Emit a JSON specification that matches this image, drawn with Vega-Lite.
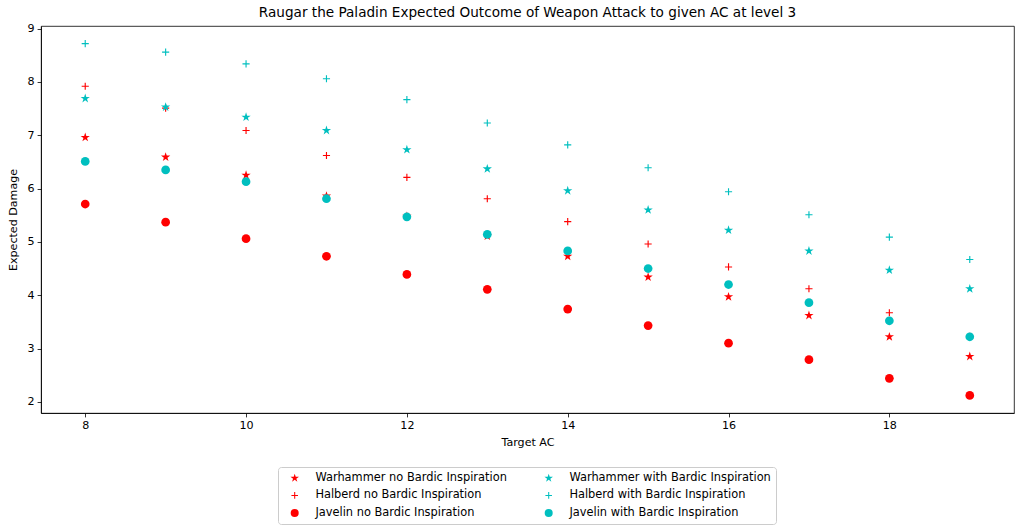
{
  "$schema": "https://vega.github.io/schema/vega-lite/v6.json",
  "autosize": "none",
  "width": 973,
  "height": 387,
  "padding": {"left": 41, "top": 26, "right": 8, "bottom": 119},
  "title": {"text": "Raugar the Paladin Expected Outcome of Weapon Attack to given AC at level 3", "fontSize": 13.6, "fontWeight": "normal", "font": "DejaVu Sans", "color": "black", "offset": 3},
  "data": {
    "values": [
      {"series": "Warhammer no Bardic Inspiration", "ac": 8, "damage": 6.96},
      {"series": "Warhammer no Bardic Inspiration", "ac": 9, "damage": 6.59},
      {"series": "Warhammer no Bardic Inspiration", "ac": 10, "damage": 6.25},
      {"series": "Warhammer no Bardic Inspiration", "ac": 11, "damage": 5.86},
      {"series": "Warhammer no Bardic Inspiration", "ac": 12, "damage": 5.48},
      {"series": "Warhammer no Bardic Inspiration", "ac": 13, "damage": 5.11},
      {"series": "Warhammer no Bardic Inspiration", "ac": 14, "damage": 4.73},
      {"series": "Warhammer no Bardic Inspiration", "ac": 15, "damage": 4.34},
      {"series": "Warhammer no Bardic Inspiration", "ac": 16, "damage": 3.97},
      {"series": "Warhammer no Bardic Inspiration", "ac": 17, "damage": 3.62},
      {"series": "Warhammer no Bardic Inspiration", "ac": 18, "damage": 3.22},
      {"series": "Warhammer no Bardic Inspiration", "ac": 19, "damage": 2.85},
      {"series": "Halberd no Bardic Inspiration", "ac": 8, "damage": 7.92},
      {"series": "Halberd no Bardic Inspiration", "ac": 9, "damage": 7.51},
      {"series": "Halberd no Bardic Inspiration", "ac": 10, "damage": 7.09},
      {"series": "Halberd no Bardic Inspiration", "ac": 11, "damage": 6.62},
      {"series": "Halberd no Bardic Inspiration", "ac": 12, "damage": 6.21},
      {"series": "Halberd no Bardic Inspiration", "ac": 13, "damage": 5.81},
      {"series": "Halberd no Bardic Inspiration", "ac": 14, "damage": 5.38},
      {"series": "Halberd no Bardic Inspiration", "ac": 15, "damage": 4.96},
      {"series": "Halberd no Bardic Inspiration", "ac": 16, "damage": 4.53},
      {"series": "Halberd no Bardic Inspiration", "ac": 17, "damage": 4.12},
      {"series": "Halberd no Bardic Inspiration", "ac": 18, "damage": 3.67},
      {"series": "Halberd no Bardic Inspiration", "ac": 19, "damage": 3.23},
      {"series": "Javelin no Bardic Inspiration", "ac": 8, "damage": 5.71},
      {"series": "Javelin no Bardic Inspiration", "ac": 9, "damage": 5.37},
      {"series": "Javelin no Bardic Inspiration", "ac": 10, "damage": 5.06},
      {"series": "Javelin no Bardic Inspiration", "ac": 11, "damage": 4.73},
      {"series": "Javelin no Bardic Inspiration", "ac": 12, "damage": 4.39},
      {"series": "Javelin no Bardic Inspiration", "ac": 13, "damage": 4.11},
      {"series": "Javelin no Bardic Inspiration", "ac": 14, "damage": 3.74},
      {"series": "Javelin no Bardic Inspiration", "ac": 15, "damage": 3.43},
      {"series": "Javelin no Bardic Inspiration", "ac": 16, "damage": 3.10},
      {"series": "Javelin no Bardic Inspiration", "ac": 17, "damage": 2.79},
      {"series": "Javelin no Bardic Inspiration", "ac": 18, "damage": 2.44},
      {"series": "Javelin no Bardic Inspiration", "ac": 19, "damage": 2.12},
      {"series": "Warhammer with Bardic Inspiration", "ac": 8, "damage": 7.69},
      {"series": "Warhammer with Bardic Inspiration", "ac": 9, "damage": 7.53},
      {"series": "Warhammer with Bardic Inspiration", "ac": 10, "damage": 7.34},
      {"series": "Warhammer with Bardic Inspiration", "ac": 11, "damage": 7.09},
      {"series": "Warhammer with Bardic Inspiration", "ac": 12, "damage": 6.73},
      {"series": "Warhammer with Bardic Inspiration", "ac": 13, "damage": 6.37},
      {"series": "Warhammer with Bardic Inspiration", "ac": 14, "damage": 5.96},
      {"series": "Warhammer with Bardic Inspiration", "ac": 15, "damage": 5.60},
      {"series": "Warhammer with Bardic Inspiration", "ac": 16, "damage": 5.22},
      {"series": "Warhammer with Bardic Inspiration", "ac": 17, "damage": 4.83},
      {"series": "Warhammer with Bardic Inspiration", "ac": 18, "damage": 4.47},
      {"series": "Warhammer with Bardic Inspiration", "ac": 19, "damage": 4.12},
      {"series": "Halberd with Bardic Inspiration", "ac": 8, "damage": 8.72},
      {"series": "Halberd with Bardic Inspiration", "ac": 9, "damage": 8.56},
      {"series": "Halberd with Bardic Inspiration", "ac": 10, "damage": 8.34},
      {"series": "Halberd with Bardic Inspiration", "ac": 11, "damage": 8.06},
      {"series": "Halberd with Bardic Inspiration", "ac": 12, "damage": 7.67},
      {"series": "Halberd with Bardic Inspiration", "ac": 13, "damage": 7.23},
      {"series": "Halberd with Bardic Inspiration", "ac": 14, "damage": 6.82},
      {"series": "Halberd with Bardic Inspiration", "ac": 15, "damage": 6.39},
      {"series": "Halberd with Bardic Inspiration", "ac": 16, "damage": 5.94},
      {"series": "Halberd with Bardic Inspiration", "ac": 17, "damage": 5.51},
      {"series": "Halberd with Bardic Inspiration", "ac": 18, "damage": 5.09},
      {"series": "Halberd with Bardic Inspiration", "ac": 19, "damage": 4.67},
      {"series": "Javelin with Bardic Inspiration", "ac": 8, "damage": 6.51},
      {"series": "Javelin with Bardic Inspiration", "ac": 9, "damage": 6.35},
      {"series": "Javelin with Bardic Inspiration", "ac": 10, "damage": 6.13},
      {"series": "Javelin with Bardic Inspiration", "ac": 11, "damage": 5.81},
      {"series": "Javelin with Bardic Inspiration", "ac": 12, "damage": 5.47},
      {"series": "Javelin with Bardic Inspiration", "ac": 13, "damage": 5.14},
      {"series": "Javelin with Bardic Inspiration", "ac": 14, "damage": 4.83},
      {"series": "Javelin with Bardic Inspiration", "ac": 15, "damage": 4.50},
      {"series": "Javelin with Bardic Inspiration", "ac": 16, "damage": 4.20},
      {"series": "Javelin with Bardic Inspiration", "ac": 17, "damage": 3.86},
      {"series": "Javelin with Bardic Inspiration", "ac": 18, "damage": 3.52},
      {"series": "Javelin with Bardic Inspiration", "ac": 19, "damage": 3.22}
    ]
  },
  "mark": {"type": "point", "filled": true, "opacity": 1, "size": 76},
  "encoding": {
    "x": {
      "field": "ac", "type": "quantitative", "title": "Target AC",
      "scale": {"domain": [7.45, 19.55], "nice": false, "zero": false},
      "axis": {"values": [8, 10, 12, 14, 16, 18], "titlePadding": 5}
    },
    "y": {
      "field": "damage", "type": "quantitative", "title": "Expected Damage",
      "scale": {"domain": [1.79, 9.05], "nice": false, "zero": false},
      "axis": {"values": [2, 3, 4, 5, 6, 7, 8, 9], "titlePadding": 9}
    },
    "color": {
      "field": "series", "type": "nominal",
      "scale": {
        "domain": ["Warhammer no Bardic Inspiration", "Halberd no Bardic Inspiration", "Javelin no Bardic Inspiration", "Warhammer with Bardic Inspiration", "Halberd with Bardic Inspiration", "Javelin with Bardic Inspiration"],
        "range": ["#ff0000", "#ff0000", "#ff0000", "#00bfbf", "#00bfbf", "#00bfbf"]
      },
      "legend": {
        "title": null, "orient": "none", "legendX": 237, "legendY": 441,
        "columns": 2, "columnPadding": 30, "rowPadding": 4.7, "padding": 5,
        "labelFontSize": 11.4, "labelFont": "DejaVu Sans", "labelColor": "black", "labelLimit": 300, "labelOffset": 15,
        "symbolSize": 64, "symbolOffset": 6, "strokeColor": "#cccccc", "cornerRadius": 3, "fillColor": "white"
      }
    },
    "shape": {
      "field": "series", "type": "nominal",
      "scale": {
        "domain": ["Warhammer no Bardic Inspiration", "Halberd no Bardic Inspiration", "Javelin no Bardic Inspiration", "Warhammer with Bardic Inspiration", "Halberd with Bardic Inspiration", "Javelin with Bardic Inspiration"],
        "range": [
          "M0,-1.12L0.2514,-0.3461L1.0652,-0.3461L0.4069,0.1322L0.6583,0.9061L0,0.4278L-0.6583,0.9061L-0.4069,0.1322L-1.0652,-0.3461L-0.2514,-0.3461Z",
          "M-0.82,-0.13L0.82,-0.13L0.82,0.13L-0.82,0.13Z M-0.13,-0.82L0.13,-0.82L0.13,0.82L-0.13,0.82Z",
          "circle",
          "M0,-1.12L0.2514,-0.3461L1.0652,-0.3461L0.4069,0.1322L0.6583,0.9061L0,0.4278L-0.6583,0.9061L-0.4069,0.1322L-1.0652,-0.3461L-0.2514,-0.3461Z",
          "M-0.82,-0.13L0.82,-0.13L0.82,0.13L-0.82,0.13Z M-0.13,-0.82L0.13,-0.82L0.13,0.82L-0.13,0.82Z",
          "circle"
        ]
      },
      "legend": {
        "title": null, "orient": "none", "legendX": 237, "legendY": 441,
        "columns": 2, "columnPadding": 30, "rowPadding": 4.7, "padding": 5,
        "labelFontSize": 11.4, "labelFont": "DejaVu Sans", "labelColor": "black", "labelLimit": 300, "labelOffset": 15,
        "symbolSize": 64, "symbolOffset": 6, "strokeColor": "#cccccc", "cornerRadius": 3, "fillColor": "white"
      }
    }
  },
  "config": {
    "font": "DejaVu Sans",
    "view": {"stroke": "black", "strokeWidth": 0.8},
    "axis": {
      "grid": false, "domainColor": "black", "domainWidth": 0.8,
      "tickColor": "black", "tickWidth": 0.8, "tickSize": 3.9, "labelPadding": 3,
      "labelFontSize": 11.1, "labelColor": "black", "labelFont": "DejaVu Sans",
      "titleFontSize": 11.1, "titleFontWeight": "normal", "titleColor": "black", "titleFont": "DejaVu Sans"
    }
  }
}
